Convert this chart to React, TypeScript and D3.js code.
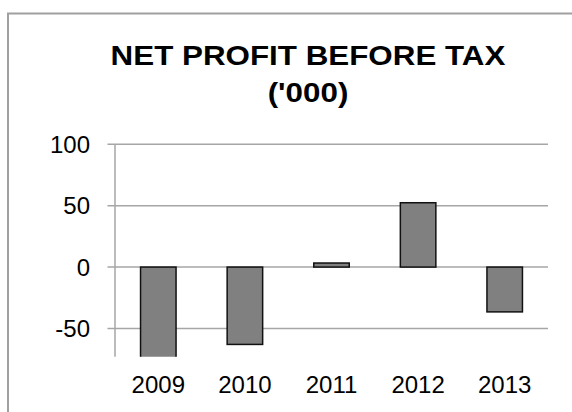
import React from "react";
import * as d3 from "d3";

const years = ["2009", "2010", "2011", "2012", "2013"];
const profit = [-80, -63, 3.3, 52.4, -36.5];
const yTicks = [-50, 0, 50, 100];
const titleLines = ["NET PROFIT BEFORE TAX", "('000)"];

export default function App() {
  const W = 572, H = 412;
  const left = 115, right = 548, top = 144.3, bottom = 356.7;
  const x = d3.scaleBand<string>().domain(years).range([left, right]).paddingInner(0.59).paddingOuter(0.295);
  const y = d3.scaleLinear().domain([-73, 100]).range([bottom, top]);
  const font = "'Liberation Sans', Arial, sans-serif";
  const titleBaselines = [64.5, 102];
  return (
    <div style={{ position: "absolute", left: 0, top: 0 }}>
      <svg width={W} height={H} style={{ display: "block" }}>
        <defs>
          <clipPath id="plot">
            <rect x={left} y={top - 5} width={right - left} height={bottom - top + 5} />
          </clipPath>
        </defs>
        <rect x={0} y={0} width={W} height={H} fill="#fff" />
        <rect x={8} y={13.5} width={W} height={H} fill="#fff" stroke="#a0a0a0" strokeWidth={2} />
        {titleLines.map((t, i) => (
          <text
            key={t}
            transform={`translate(308,${titleBaselines[i]}) scale(1.12,1)`}
            textAnchor="middle"
            fontFamily={font}
            fontWeight="bold"
            fontSize={28}
            fill="#000"
          >
            {t}
          </text>
        ))}
        {yTicks.map((v) => (
          <g key={v}>
            <line x1={107.5} x2={right} y1={y(v)} y2={y(v)} stroke="#a6a6a6" strokeWidth={1.5} />
            <text x={90} y={y(v)} dy="0.36em" textAnchor="end" fontFamily={font} fontSize={24} fill="#000">
              {v}
            </text>
          </g>
        ))}
        <line x1={left} x2={left} y1={top} y2={bottom} stroke="#a6a6a6" strokeWidth={1.5} />
        <g clipPath="url(#plot)">
          {years.map((yr, i) => {
            const v = profit[i];
            const y0 = y(0), y1 = y(v);
            return (
              <rect
                key={yr}
                x={x(yr)}
                width={x.bandwidth()}
                y={Math.min(y0, y1)}
                height={Math.abs(y1 - y0)}
                fill="#808080"
                stroke="#111"
                strokeWidth={1.5}
              />
            );
          })}
        </g>
        {years.map((yr) => (
          <text key={yr} x={(x(yr) as number) + x.bandwidth() / 2} y={393} textAnchor="middle" fontFamily={font} fontSize={24} fill="#000">
            {yr}
          </text>
        ))}
      </svg>
    </div>
  );
}
